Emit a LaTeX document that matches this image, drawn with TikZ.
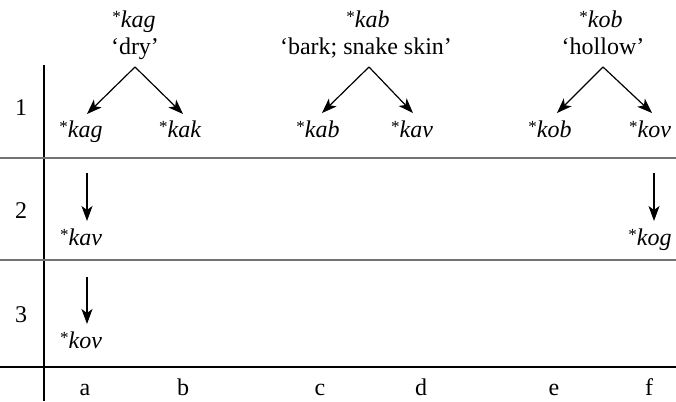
\documentclass[tikz,border=0pt]{standalone}
\usepackage{fontspec}
\setmainfont{Liberation Serif}
\usetikzlibrary{arrows.meta}
\newcommand{\rast}{\raisebox{5pt}{\fontsize{17}{17}\selectfont\upshape *}}
\begin{document}
\begin{tikzpicture}[x=1pt,y=-1pt,
  txt/.style={inner sep=0pt,anchor=base,font=\fontsize{24}{26}\selectfont},
  form/.style={txt,font=\fontsize{24}{26}\selectfont\itshape},
  arr/.style={line width=1.2pt,-{Stealth[length=15pt,width=11pt,inset=4pt]}},
  grayrule/.style={line width=1.5pt,draw=black!55},
  blackrule/.style={line width=1.1pt,draw=black}]
\useasboundingbox (0,0) rectangle (676,401);
% rules
\draw[blackrule] (44,65) -- (44,401);
\draw[grayrule] (0,158) -- (676,158);
\draw[grayrule] (0,260) -- (676,260);
\draw[blackrule] (0,367) -- (676,367);
% top labels
\node[form] (tA) at (134,28) {\rast kag};
\node[txt] (gA) at (135,55) {‘dry’};
\node[form] (tB) at (368,28) {\rast kab};
\node[txt] (gB) at (366,55) {‘bark; snake skin’};
\node[form] (tC) at (601,28) {\rast kob};
\node[txt] (gC) at (603,55) {‘hollow’};
% apexes and tips
\coordinate (apA) at (135,67);
\coordinate (apB) at (369,67);
\coordinate (apC) at (603,67);
\coordinate (tA1) at (87,114);
\coordinate (tA2) at (183,114);
\coordinate (tB1) at (322,113);
\coordinate (tB2) at (413,113);
\coordinate (tC1) at (557,113);
\coordinate (tC2) at (652,113);
% row 1 forms
\node[form] (a1) at (81,137) {\rast kag};
\node[form] (b1) at (180,137) {\rast kak};
\node[form] (c1) at (318,137) {\rast kab};
\node[form] (d1) at (412,137) {\rast kav};
\node[form] (e1) at (550,137) {\rast kob};
\node[form] (f1) at (650,137) {\rast kov};
\draw[arr] (apA) -- (tA1);
\draw[arr] (apA) -- (tA2);
\draw[arr] (apB) -- (tB1);
\draw[arr] (apB) -- (tB2);
\draw[arr] (apC) -- (tC1);
\draw[arr] (apC) -- (tC2);
% row 2
\coordinate (s2a) at (87,173);
\coordinate (e2a) at (87,221);
\coordinate (s2f) at (654,173);
\coordinate (e2f) at (654,221);
\node[form] (a2) at (81,245) {\rast kav};
\node[form] (f2) at (650,245) {\rast kog};
\draw[arr] (s2a) -- (e2a);
\draw[arr] (s2f) -- (e2f);
% row 3
\coordinate (s3a) at (87,277);
\coordinate (e3a) at (87,324);
\node[form] (a3) at (81,348) {\rast kov};
\draw[arr] (s3a) -- (e3a);
% row labels
\node[txt] (r1) at (21,115) {1};
\node[txt] (r2) at (21,218) {2};
\node[txt] (r3) at (21,322) {3};
% column labels
\node[txt] (ca) at (85,395) {a};
\node[txt] (cb) at (183,395) {b};
\node[txt] (cc) at (320,395) {c};
\node[txt] (cd) at (421,395) {d};
\node[txt] (ce) at (554,395) {e};
\node[txt] (cf) at (649,395) {f};
\end{tikzpicture}
\end{document}
